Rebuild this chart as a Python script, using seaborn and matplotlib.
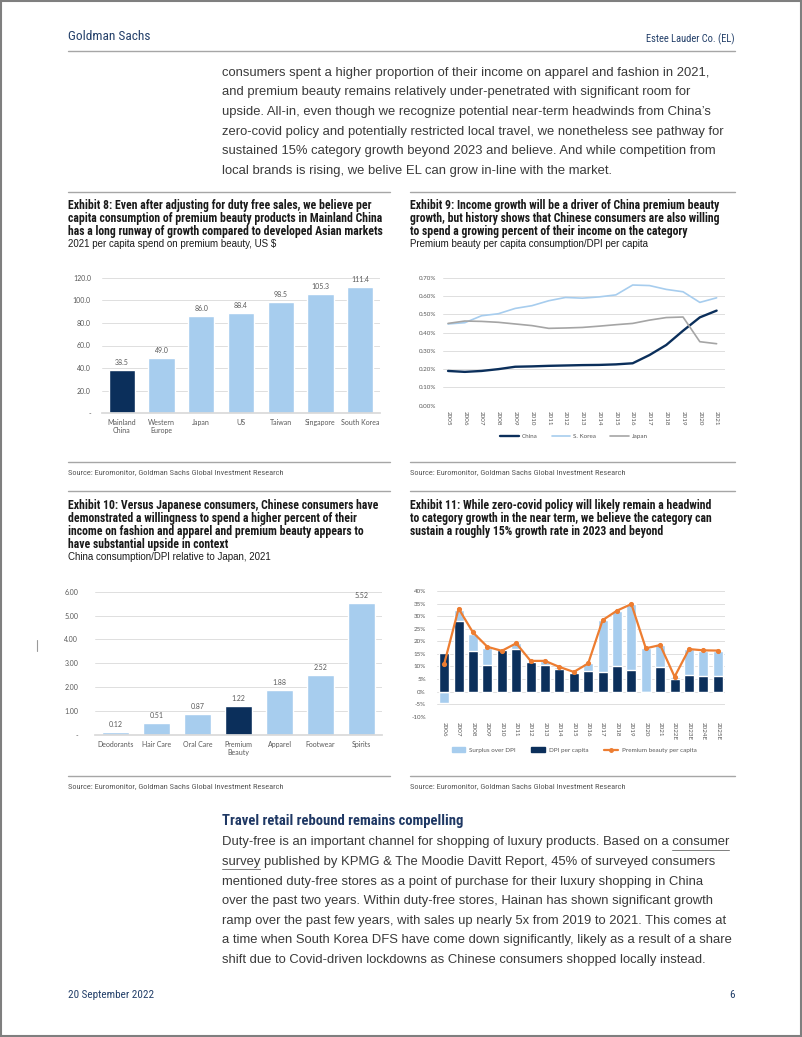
import matplotlib
matplotlib.use("Agg")
import matplotlib.pyplot as plt
import seaborn as sns
from matplotlib import font_manager
from matplotlib.patches import Patch, Rectangle
from matplotlib.lines import Line2D
from matplotlib.ticker import FuncFormatter

# ---------------- data ----------------
ex8_markets = ["Mainland\nChina", "Western\nEurope", "Japan", "US", "Taiwan", "Singapore", "South Korea"]
ex8_spend = [38.5, 49.0, 86.0, 88.4, 98.5, 105.3, 111.4]

ex9_years = list(range(2005, 2022))
ex9_china = [0.19, 0.185, 0.19, 0.20, 0.213, 0.215, 0.218, 0.22, 0.222, 0.223, 0.226, 0.232, 0.277, 0.332, 0.41, 0.483, 0.52]
ex9_korea = [0.447, 0.454, 0.492, 0.503, 0.532, 0.547, 0.574, 0.592, 0.588, 0.595, 0.606, 0.66, 0.657, 0.636, 0.623, 0.565, 0.59]
ex9_japan = [0.45, 0.463, 0.461, 0.456, 0.447, 0.438, 0.423, 0.425, 0.428, 0.435, 0.443, 0.45, 0.468, 0.482, 0.485, 0.35, 0.339]

ex10_categories = ["Deodorants", "Hair Care", "Oral Care", "Premium\nBeauty", "Apparel", "Footwear", "Spirits"]
ex10_ratio = [0.12, 0.51, 0.87, 1.22, 1.88, 2.52, 5.52]

ex11_years = ["2006", "2007", "2008", "2009", "2010", "2011", "2012", "2013", "2014", "2015",
              "2016", "2017", "2018", "2019", "2020", "2021", "2022E", "2023E", "2024E", "2025E"]
ex11_dpi = [15.5, 28.2, 16.3, 10.6, 16.5, 16.8, 11.6, 10.4, 8.8, 7.2, 8.3, 7.6, 10.2, 8.6, 0.0, 9.6, 4.9, 6.7, 6.2, 6.2]
ex11_surplus = [-4.5, 4.2, 6.6, 6.8, -0.3, 2.6, 0.6, 1.6, 1.0, 0.5, 3.0, 20.8, 22.0, 26.1, 17.2, 8.8, 1.0, 10.2, 10.0, 10.1]
ex11_premium = [11.0, 33.0, 23.5, 17.8, 16.2, 19.2, 12.2, 12.2, 9.8, 7.8, 11.2, 28.4, 32.2, 34.8, 17.2, 18.5, 5.9, 16.9, 16.4, 16.3]

# ---------------- page text ----------------
para_top = [
    "consumers spent a higher proportion of their income on apparel and fashion in 2021,",
    "and premium beauty remains relatively under-penetrated with significant room for",
    "upside. All-in, even though we recognize potential near-term headwinds from China\u2019s",
    "zero-covid policy and potentially restricted local travel, we nonetheless see pathway for",
    "sustained 15% category growth beyond 2023 and believe. And while competition from",
    "local brands is rising, we belive EL can grow in-line with the market.",
]
para_bottom = [
    "Duty-free is an important channel for shopping of luxury products. Based on a consumer",
    "survey published by KPMG & The Moodie Davitt Report, 45% of surveyed consumers",
    "mentioned duty-free stores as a point of purchase for their luxury shopping in China",
    "over the past two years. Within duty-free stores, Hainan has shown significant growth",
    "ramp over the past few years, with sales up nearly 5x from 2019 to 2021. This comes at",
    "a time when South Korea DFS have come down significantly, likely as a result of a share",
    "shift due to Covid-driven lockdowns as Chinese consumers shopped locally instead.",
]
ex8_title = ["Exhibit 8: Even after adjusting for duty free sales, we believe per",
             "capita consumption of premium beauty products in Mainland China",
             "has a long runway of growth compared to developed Asian markets"]
ex9_title = ["Exhibit 9: Income growth will be a driver of China premium beauty",
             "growth, but history shows that Chinese consumers are also willing",
             "to spend a growing percent of their income on the category"]
ex10_title = ["Exhibit 10: Versus Japanese consumers, Chinese consumers have",
              "demonstrated a willingness to spend a higher percent of their",
              "income on fashion and apparel and premium beauty appears to",
              "have substantial upside in context"]
ex11_title = ["Exhibit 11: While zero-covid policy will likely remain a headwind",
              "to category growth in the near term, we believe the category can",
              "sustain a roughly 15% growth rate in 2023 and beyond"]
source = "Source: Euromonitor, Goldman Sachs Global Investment Research"

# ---------------- style ----------------
sns.set_theme(style="white")
available = {f.name for f in font_manager.fontManager.ttflist}


def pick(cands, fallback="DejaVu Sans"):
    for c in cands:
        if c in available:
            return c
    return fallback


NARROW = pick(["Liberation Sans Narrow", "Roboto Condensed", "DejaVu Sans Condensed"], None)
BODY = pick(["Liberation Sans", "Roboto", "DejaVu Sans"])
CHART = pick(["Lato", "Open Sans", "Liberation Sans"])
if NARROW is None:
    narrow_kw = dict(family="DejaVu Sans", stretch="condensed")
else:
    narrow_kw = dict(family=NARROW)
plt.rcParams["font.family"] = [CHART, "DejaVu Sans"]

NAVY = "#0B2F5B"
LIGHT = "#A7CDEE"
GREY = "#A5A5A5"
ORANGE = "#ED7D31"
TXT = "#3A3A3A"
HEAD = "#24406A"
TICK = "#595959"
GRID = "#D9D9D9"
BODY_SIZE = 9.35
TITLE_SIZE = 8.5

W, H = 802, 1037
fig = plt.figure(figsize=(W / 100, H / 100), dpi=100)


def fx(x):
    return x / W


def fy(y):
    return 1 - y / H


def add_ax(x0, y0, x1, y1):
    return fig.add_axes([fx(x0), fy(y1), fx(x1) - fx(x0), fy(y0) - fy(y1)])


def txt(x, y, s, **kw):
    return fig.text(fx(x), fy(y), s, va="center", **kw)


def rule(x0, x1, y, color="#A6A6A6", lw=1.0):
    fig.add_artist(Line2D([fx(x0), fx(x1)], [fy(y), fy(y)], color=color, lw=lw))


def style_ax(ax):
    sns.despine(ax=ax, left=True, top=True, right=True, bottom=True)
    ax.yaxis.grid(True, color=GRID, lw=0.6)
    ax.xaxis.grid(False)
    ax.set_axisbelow(True)
    ax.set_xlabel("")
    ax.set_ylabel("")
    ax.tick_params(length=0, labelsize=5, labelcolor=TICK)


# page frame and header
fig.add_artist(Rectangle((0.001, 0.001), 0.998, 0.998, transform=fig.transFigure,
                         fill=False, edgecolor="#7F7F7F", lw=1.5))
fig.add_artist(Line2D([fx(37), fx(37)], [fy(640), fy(651)], color="#9A9A9A", lw=0.8))
txt(68, 36, "Goldman Sachs", color=HEAD, fontsize=9.6, **narrow_kw)
txt(735, 39, "Estee Lauder Co. (EL)", color=HEAD, fontsize=7.6, ha="right", **narrow_kw)
rule(68, 735, 51)

for i, line in enumerate(para_top):
    txt(222, 72.7 + 19.6 * i, line, color=TXT, fontsize=BODY_SIZE, family=BODY)

# exhibit headers
for x0, x1, title, sub in [(68, 390, ex8_title, "2021 per capita spend on premium beauty, US $"),
                           (410, 735, ex9_title, "Premium beauty per capita consumption/DPI per capita")]:
    rule(x0, x1, 191.7)
    for i, line in enumerate(title):
        txt(x0, 205 + 13.3 * i, line, color="#1A1A1A", fontsize=TITLE_SIZE, weight="bold", **narrow_kw)
    txt(x0, 244.3, sub, color="#1A1A1A", fontsize=7, family=BODY)
    rule(x0, x1, 461.7)
    txt(x0, 471.7, source, color=TICK, fontsize=6.0, **narrow_kw)
    rule(x0, x1, 491)

for x0, x1, title, sub in [(68, 390, ex10_title, "China consumption/DPI relative to Japan, 2021"),
                           (410, 735, ex11_title, None)]:
    for i, line in enumerate(title):
        txt(x0, 505 + 13.3 * i, line, color="#1A1A1A", fontsize=TITLE_SIZE, weight="bold", **narrow_kw)
    if sub:
        txt(x0, 557, sub, color="#1A1A1A", fontsize=7, family=BODY)
    rule(x0, x1, 776)
    txt(x0, 786, source, color=TICK, fontsize=6.0, **narrow_kw)

# ---------------- Exhibit 8 ----------------
ax8 = add_ax(102, 277.7, 380, 413.3)
pal8 = [NAVY] + [LIGHT] * (len(ex8_markets) - 1)
sns.barplot(x=ex8_markets, y=ex8_spend, hue=ex8_markets, palette=pal8, legend=False,
            width=0.66, saturation=1, ax=ax8)
for c in ax8.containers:
    ax8.bar_label(c, fmt="%.1f", padding=3, fontsize=5, color=TICK)
ax8.set_ylim(0, 120)
ax8.set_yticks(range(0, 121, 20))
ax8.yaxis.set_major_formatter(FuncFormatter(lambda v, p: "-" if v == 0 else f"{v:.1f}"))
style_ax(ax8)
ax8.spines["bottom"].set_visible(True)
ax8.spines["bottom"].set_color(GRID)
ax8.tick_params(axis="y", pad=8)
ax8.tick_params(axis="x", pad=4)

# ---------------- Exhibit 9 ----------------
ax9 = add_ax(443, 277.7, 725, 405.7)
sns.lineplot(x=ex9_years, y=ex9_china, color=NAVY, lw=1.7, ax=ax9)
sns.lineplot(x=ex9_years, y=ex9_korea, color=LIGHT, lw=1.2, ax=ax9)
sns.lineplot(x=ex9_years, y=ex9_japan, color=GREY, lw=1.2, ax=ax9)
ax9.set_ylim(0, 0.7)
ax9.set_yticks([i / 10 for i in range(8)])
ax9.yaxis.set_major_formatter(FuncFormatter(lambda v, p: f"{v:.2f}%"))
ax9.set_xlim(2004.7, 2021.5)
ax9.set_xticks(ex9_years)
ax9.set_xticklabels([str(y) for y in ex9_years], rotation=-90)
style_ax(ax9)
ax9.tick_params(labelsize=4.5)
ax9.tick_params(axis="y", pad=5)
ax9.tick_params(axis="x", pad=4)
h9 = [Line2D([], [], color=NAVY, lw=1.7), Line2D([], [], color=LIGHT, lw=1.2), Line2D([], [], color=GREY, lw=1.2)]
fig.legend(h9, ["China", "S. Korea", "Japan"], loc="center", bbox_to_anchor=(fx(574), fy(436)),
           ncol=3, frameon=False, fontsize=4.5, handlelength=3, columnspacing=2.2,
           labelcolor=TICK, handletextpad=0.5)

# ---------------- Exhibit 10 ----------------
ax10 = add_ax(95, 591.7, 382, 735)
pal10 = [LIGHT, LIGHT, LIGHT, NAVY, LIGHT, LIGHT, LIGHT]
sns.barplot(x=ex10_categories, y=ex10_ratio, hue=ex10_categories, palette=pal10, legend=False,
            width=0.66, saturation=1, ax=ax10)
for c in ax10.containers:
    ax10.bar_label(c, fmt="%.2f", padding=3, fontsize=5, color=TICK)
ax10.set_ylim(0, 6)
ax10.set_yticks(range(0, 7))
ax10.yaxis.set_major_formatter(FuncFormatter(lambda v, p: "-" if v == 0 else f"{v:.2f}"))
style_ax(ax10)
ax10.spines["bottom"].set_visible(True)
ax10.spines["bottom"].set_color(GRID)
ax10.tick_params(axis="y", pad=12)
ax10.tick_params(axis="x", pad=4)

# ---------------- Exhibit 11 ----------------
ax11 = add_ax(437, 591, 725, 716.7)
# light bar reaches the top of the stack (or below zero when the surplus is negative)
light_top = [d + s if s > 0 else s for d, s in zip(ex11_dpi, ex11_surplus)]
sns.barplot(x=ex11_years, y=light_top, color=LIGHT, saturation=1, width=0.69, ax=ax11)
sns.barplot(x=ex11_years, y=ex11_dpi, color=NAVY, saturation=1, width=0.69, ax=ax11)
sns.pointplot(x=ex11_years, y=ex11_premium, color=ORANGE, markers="o", markersize=2.5,
              linewidth=1.6, errorbar=None, ax=ax11)
ax11.set_ylim(-10, 40)
ax11.set_yticks(range(-10, 41, 5))
ax11.yaxis.set_major_formatter(FuncFormatter(lambda v, p: f"{v:.0f}%"))
ax11.set_xlim(-0.5, len(ex11_years) - 0.5)
ax11.set_xticks(range(len(ex11_years)))
ax11.set_xticklabels(ex11_years, rotation=-90)
style_ax(ax11)
ax11.tick_params(labelsize=4.5)
ax11.tick_params(axis="y", pad=8)
ax11.tick_params(axis="x", pad=4)
h11 = [Patch(color=LIGHT), Patch(color=NAVY),
       Line2D([], [], color=ORANGE, lw=1.6, marker="o", markersize=2.5)]
fig.legend(h11, ["Surplus over DPI", "DPI per capita", "Premium beauty per capita"], loc="center",
           bbox_to_anchor=(fx(574), fy(750)), ncol=3, frameon=False, fontsize=4.5,
           handlelength=2.2, handleheight=0.8, columnspacing=2.5, labelcolor=TICK, handletextpad=0.6)

# ---------------- bottom section ----------------
txt(222, 821.5, "Travel retail rebound remains compelling", color="#1F3864", fontsize=10.5,
    weight="bold", **narrow_kw)
body_lines = []
for i, line in enumerate(para_bottom):
    body_lines.append(txt(222, 842.3 + 19.6 * i, line, color=TXT, fontsize=BODY_SIZE, family=BODY))

# hyperlink underline under "consumer survey", measured from the rendered text
renderer = fig.canvas.get_renderer()


def word_width(word):
    t = fig.text(0, 0, word, fontsize=BODY_SIZE, family=BODY)
    w = t.get_window_extent(renderer).width
    t.remove()
    return w


line_end = body_lines[0].get_window_extent(renderer).x1
rule(line_end - word_width("consumer"), line_end, 849.5, color="#7F7F7F", lw=0.7)
rule(222, 222 + word_width("survey"), 869, color="#7F7F7F", lw=0.7)

txt(68, 995, "20 September 2022", color=HEAD, fontsize=8, **narrow_kw)
txt(735, 995, "6", color=HEAD, fontsize=8, ha="right", **narrow_kw)

fig.savefig("out.png", dpi=100)
